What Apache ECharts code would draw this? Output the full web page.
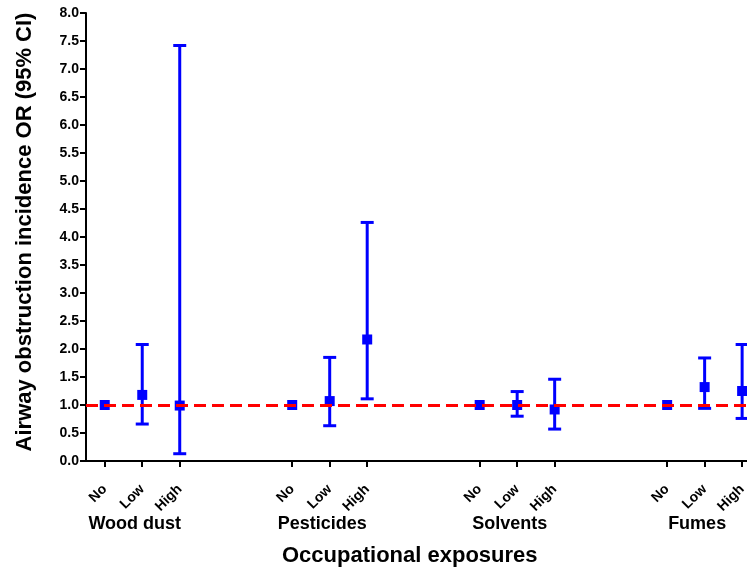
<!DOCTYPE html>
<html>
<head>
<meta charset="utf-8">
<script src="https://cdn.jsdelivr.net/npm/echarts@6/dist/echarts.min.js"></script>
<style>
  html, body { margin: 0; padding: 0; background: #fff; }
  #chart { width: 747px; height: 572px; }
</style>
</head>
<body>
<div id="chart"></div>
<script>
// exposure groups and levels
const groups = ['Wood dust', 'Pesticides', 'Solvents', 'Fumes']
const levels = ['No', 'Low', 'High']
// odds ratio and 95% CI, one entry per group/level (No = reference)
const orEstimate = [1.00, 1.18, 0.99, 1.00, 1.07, 2.17, 1.00, 1.00, 0.92, 1.00, 1.32, 1.25]
const ciLower = [null, 0.66, 0.13, null, 0.63, 1.11, null, 0.80, 0.57, null, 0.94, 0.76]
const ciUpper = [null, 2.08, 7.42, null, 1.85, 4.26, null, 1.24, 1.46, null, 1.84, 2.08]
const refLine = 1.0
const groupStep = 5 // slots per group incl. the gap

// slot positions on the x axis: No Low High _ _ No Low High ...
const slotIndex = []
const slotLabel = {}
const groupCenter = []
const groupName = {}
groups.forEach((g, gi) => {
  levels.forEach((lv, li) => {
    const s = gi * groupStep + li
    slotIndex.push(s)
    slotLabel[s] = lv
  })
  // group title sits a bit left of the middle tick
  const c = gi * groupStep + 0.8
  groupCenter.push(c)
  groupName[c] = g
})

const points = orEstimate.map((v, i) => [slotIndex[i], v])
const bars = []
orEstimate.forEach((v, i) => {
  if (ciLower[i] != null) bars.push([slotIndex[i], ciLower[i], ciUpper[i]])
})

// the plot is cut off at the right edge, just past the last slot
const xMin = -0.5
const xMax = 17.13

const font = 'Liberation Sans, Arial, sans-serif'
const chart = echarts.init(document.getElementById('chart'))

chart.setOption({
  animation: false,
  grid: { left: 86, right: 0, top: 13, bottom: 111, outerBoundsMode: 'none' },
  xAxis: [{
    type: 'value',
    min: xMin,
    max: xMax,
    splitLine: { show: false },
    axisLine: { onZero: false, lineStyle: { color: '#000', width: 2 } },
    axisTick: {
      show: true,
      customValues: slotIndex,
      length: 6,
      lineStyle: { color: '#000', width: 2 }
    },
    axisLabel: {
      customValues: slotIndex,
      formatter: v => slotLabel[v] || '',
      rotate: 45,
      margin: 26,
      color: '#000',
      fontFamily: font,
      fontWeight: 'bold',
      fontSize: 14
    }
  }, {
    type: 'value',
    min: xMin,
    max: xMax,
    position: 'bottom',
    offset: 46,
    splitLine: { show: false },
    axisLine: { show: false },
    axisTick: { show: false },
    axisLabel: {
      customValues: groupCenter,
      formatter: v => groupName[v] || '',
      color: '#000',
      fontFamily: font,
      fontWeight: 'bold',
      fontSize: 18
    }
  }],
  yAxis: {
    type: 'value',
    min: 0,
    max: 8,
    interval: 0.5,
    name: 'Airway obstruction incidence OR (95% CI)',
    nameLocation: 'middle',
    nameGap: 50,
    nameTextStyle: { color: '#000', fontFamily: font, fontWeight: 'bold', fontSize: 22, padding: [0, 0, 0, 10] },
    splitLine: { show: false },
    axisLine: { show: true, onZero: false, lineStyle: { color: '#000', width: 2 } },
    axisTick: { show: true, length: 6, lineStyle: { color: '#000', width: 2 } },
    axisLabel: {
      margin: 7,
      color: '#000',
      fontFamily: font,
      fontWeight: 'bold',
      fontSize: 14,
      formatter: v => v.toFixed(1)
    }
  },
  graphic: [{
    type: 'text',
    left: 282,
    top: 545,
    style: { text: 'Occupational exposures', fill: '#000', font: 'bold 22px ' + font }
  }],
  series: [{
    type: 'line',
    name: 'reference',
    data: [],
    z: 1,
    markLine: {
      silent: true,
      symbol: 'none',
      label: { show: false },
      lineStyle: { color: '#ff0000', width: 3, type: [12, 6] },
      data: [{ yAxis: refLine }]
    }
  }, {
    type: 'custom',
    name: 'CI',
    renderItem: (params, api) => {
      const x = api.value(0)
      const lo = api.coord([x, api.value(1)])
      const hi = api.coord([x, api.value(2)])
      const cap = 6.5
      const style = { stroke: '#0000ff', lineWidth: 3 }
      return {
        type: 'group',
        children: [
          { type: 'line', shape: { x1: lo[0], y1: lo[1], x2: hi[0], y2: hi[1] }, style },
          { type: 'line', shape: { x1: lo[0] - cap, y1: lo[1], x2: lo[0] + cap, y2: lo[1] }, style },
          { type: 'line', shape: { x1: hi[0] - cap, y1: hi[1], x2: hi[0] + cap, y2: hi[1] }, style }
        ]
      }
    },
    encode: { x: 0, y: [1, 2] },
    data: bars,
    z: 3
  }, {
    type: 'scatter',
    name: 'OR',
    symbol: 'rect',
    symbolSize: 10,
    itemStyle: { color: '#0000ff', opacity: 1 },
    data: points,
    z: 4
  }]
})
</script>
</body>
</html>
